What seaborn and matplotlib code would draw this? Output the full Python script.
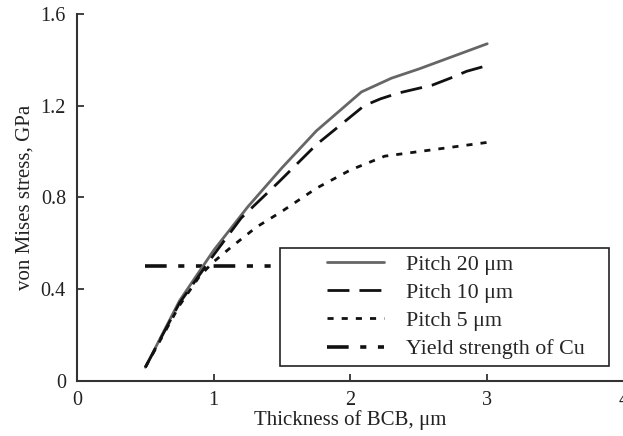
import pandas as pd
import seaborn as sns
import matplotlib.pyplot as plt
from matplotlib.lines import Line2D
from matplotlib.legend_handler import HandlerLine2D

# values
x20 = [0.5, 0.75, 1.0, 1.25, 1.5, 1.75, 2.08, 2.3, 2.5, 3.0]
y20 = [0.06, 0.35, 0.57, 0.76, 0.93, 1.09, 1.26, 1.32, 1.36, 1.47]

x10 = [0.5, 0.75, 1.0, 1.2, 1.48, 1.75, 2.1, 2.22, 2.35, 2.6, 2.73, 2.85, 3.0]
y10 = [0.06, 0.34, 0.55, 0.71, 0.87, 1.03, 1.20, 1.23, 1.255, 1.29, 1.32, 1.35, 1.375]

x5 = [0.5, 0.75, 0.9, 1.0, 1.12, 1.31, 1.5, 1.75, 2.0, 2.25, 2.5, 2.75, 3.0]
y5 = [0.06, 0.33, 0.46, 0.52, 0.58, 0.67, 0.74, 0.84, 0.92, 0.98, 1.0, 1.02, 1.04]

x_yield = [0.5, 3.0]
y_yield = [0.5, 0.5]

labels = ["Pitch 20 \u03bcm", "Pitch 10 \u03bcm", "Pitch 5 \u03bcm", "Yield strength of Cu"]

sns.set_style("ticks")
plt.rcParams['font.family'] = ['Liberation Serif', 'DejaVu Serif']

fig = plt.figure(figsize=(6.23, 4.36), dpi=100)
ax = fig.add_axes([0.1236, 0.1261, 0.878, 0.842])

df20 = pd.DataFrame({"x": x20, "y": y20})
df10 = pd.DataFrame({"x": x10, "y": y10})
df5 = pd.DataFrame({"x": x5, "y": y5})
dfy = pd.DataFrame({"x": x_yield, "y": y_yield})

sns.lineplot(data=dfy, x="x", y="y", ax=ax, color="#111111", lw=2.6,
             label=labels[3]).lines[-1].set_dashes((6, 3.2, 1.7, 3.2, 1.7, 3.2))
sns.lineplot(data=df20, x="x", y="y", ax=ax, color="#666666", lw=2, label=labels[0])
l10 = sns.lineplot(data=df10, x="x", y="y", ax=ax, color="#111111", lw=2, label=labels[1]).lines[-1]
l10.set_dashes((7.9, 3.6))
l5 = sns.lineplot(data=df5, x="x", y="y", ax=ax, color="#111111", lw=2, label=labels[2]).lines[-1]
l5.set_dashes((2.2, 2.9))

ax.set_xlim(0, 4)
ax.set_ylim(0, 1.6)
ax.set_xticks([0, 1, 2, 3, 4])
ax.set_xticklabels(["0", "1", "2", "3", "4"])
ax.set_yticks([0, 0.4, 0.8, 1.2, 1.6])
ax.set_yticklabels(["0", "0.4", "0.8", "1.2", "1.6"])
ax.tick_params(direction="in", length=5, width=1.3, colors="#333333", labelsize=14.5,
               labelcolor="#222222")
ax.tick_params(axis="x", pad=7)
ax.tick_params(axis="y", pad=8)
for s in ["left", "bottom"]:
    ax.spines[s].set_color("#333333")
    ax.spines[s].set_linewidth(1.5)
sns.despine(ax=ax)

ax.set_xlabel("Thickness of BCB, \u03bcm", fontsize=15, color="#222222", labelpad=0)
ax.set_ylabel("von Mises stress, GPa", fontsize=15, color="#222222", labelpad=4)

handles, labs = ax.get_legend_handles_labels()
order = [labs.index(l) for l in labels]
leg = ax.legend([handles[i] for i in order], labels, loc="lower left",
                bbox_to_anchor=(0.371, 0.041, 0.6015, 0.3), mode="expand",
                borderaxespad=0, fontsize=15.8, frameon=True,
                fancybox=False, framealpha=1, edgecolor="#222222",
                handlelength=4.45, borderpad=0.3, labelspacing=0.36, handletextpad=1.0,
                handler_map={Line2D: HandlerLine2D(xpad=1.85)})
leg.get_frame().set_linewidth(1.2)
leg.set_zorder(5)

fig.savefig("out.png", dpi=100)
